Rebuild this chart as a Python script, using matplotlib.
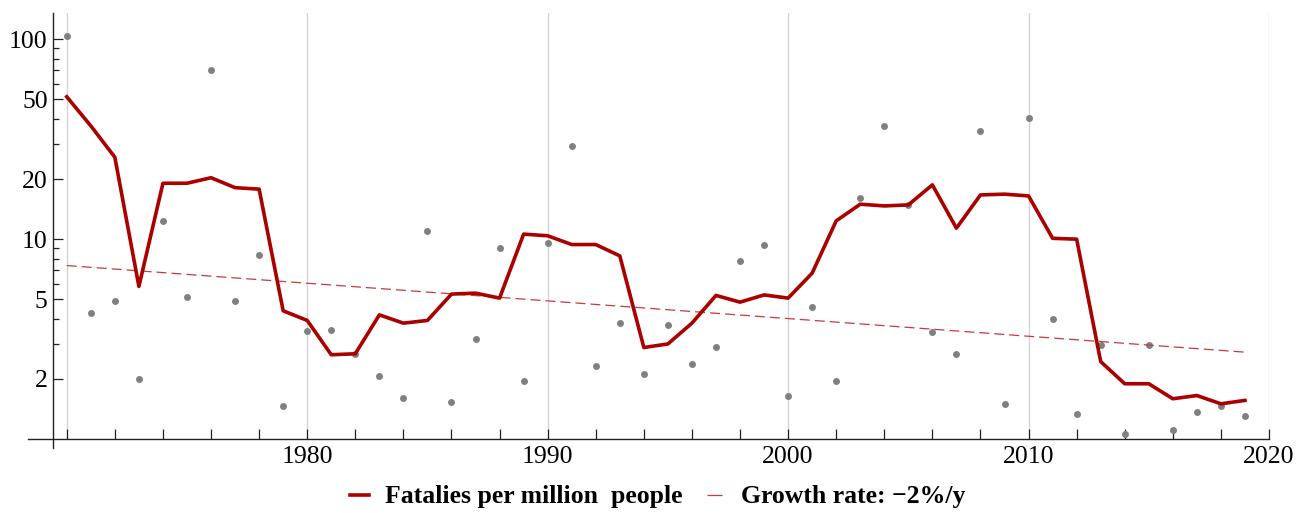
import numpy as np
import matplotlib
matplotlib.use("Agg")
import matplotlib.pyplot as plt
from matplotlib.lines import Line2D
from matplotlib.ticker import FixedLocator, NullFormatter

plt.rcParams['font.family'] = ['Liberation Serif', 'DejaVu Serif']

# --- data (fatalities per million people) ---
years = list(range(1970, 2020))
annual = [103.9, 4.25, 4.93, 2.0, 12.4, 5.11, 70.5, 4.91, 8.35, 1.46,
          3.47, 3.53, 2.66, 2.07, 1.60, 11.04, 1.54, 3.17, 9.08, 1.96,
          9.62, 29.3, 2.31, 3.80, 2.12, 3.73, 2.38, 2.88, 7.79, 9.37,
          1.65, 4.60, 1.96, 16.14, 36.9, 14.8, 3.43, 2.67, 34.8, 1.50,
          40.4, 3.98, 1.33, 2.96, 1.06, 2.96, 1.11, 1.37, 1.47, 1.30]
smoothed = [51.6, 36.9, 25.7, 5.8, 19.05, 19.05, 20.3, 18.1, 17.8, 4.38,
            3.92, 2.64, 2.67, 4.18, 3.80, 3.92, 5.31, 5.37, 5.07, 10.6,
            10.4, 9.4, 9.4, 8.25, 2.87, 2.99, 3.80, 5.23, 4.84, 5.26,
            5.07, 6.76, 12.35, 14.96, 14.67, 14.84, 18.7, 11.35, 16.65, 16.8,
            16.46, 10.1, 10.0, 2.44, 1.89, 1.89, 1.59, 1.65, 1.50, 1.56]
trend_years = [1970, 2019]
trend_vals = [7.38, 2.72]

grid_years = [1970, 1980, 1990, 2000, 2010, 2020]
x_major = [1980, 1990, 2000, 2010, 2020]
x_minor = list(range(1970, 2020, 2))
y_major = [2, 5, 10, 20, 50, 100]
y_minor = [3, 4, 6, 7, 8, 9, 30, 40, 60, 70, 80, 90]

W, H = 1296, 513
fig = plt.figure(figsize=(W/100, H/100), dpi=100)
left, right, top, bottom = 53.3, 1269, 13.3, 439
ax = fig.add_axes([left/W, 1-bottom/H, (right-left)/W, (bottom-top)/H])

red = '#aa0000'
trend_red = '#c83a3a'
for g in grid_years:
    ax.axvline(g, color='#d4d4d4', lw=1.0, zorder=0)

ax.plot(years, annual, 'o', color='#808080', ms=5, mec='none', zorder=2)
ax.plot(trend_years, trend_vals, color=trend_red, lw=0.9, dashes=(8, 4), zorder=3)
ax.plot(years, smoothed, '-', color=red, lw=2.6, zorder=4)

ax.set_yscale('log')
ax.set_xlim(1969.44, 2020)
ax.set_ylim(1.0, 135)

ax.yaxis.set_major_locator(FixedLocator(y_major))
ax.yaxis.set_minor_locator(FixedLocator(y_minor))
ax.set_yticklabels([str(v) for v in y_major])
ax.yaxis.set_minor_formatter(NullFormatter())
ax.xaxis.set_major_locator(FixedLocator(x_major))
ax.xaxis.set_minor_locator(FixedLocator(x_minor))
ax.set_xticklabels([str(v) for v in x_major])

ax.tick_params(axis='both', which='both', direction='in', labelsize=18.5, width=0.9, color='#222222')
ax.tick_params(axis='y', which='major', length=7, pad=4)
ax.tick_params(axis='y', which='minor', length=4.5)
ax.tick_params(axis='x', which='both', length=7, pad=5)

for s in ['top', 'right', 'bottom', 'left']:
    ax.spines[s].set_visible(False)

# axis lines, Mathematica-style (x-axis overshoots left, y-axis overshoots down)
x0 = (28 - left) / (right - left)
ax.plot([x0, 1], [0, 0], transform=ax.transAxes, color='#222222', lw=1.0, clip_on=False, zorder=5)
y0 = -(447.7 - bottom) / (bottom - top)
ax.plot([0, 0], [y0, 1], transform=ax.transAxes, color='#222222', lw=1.0, clip_on=False, zorder=5)

handles = [Line2D([], [], color=red, lw=2.6),
           Line2D([], [], color=trend_red, lw=0.9, linestyle=(0, (12, 30)))]
labels = ['Fatalies per million  people', 'Growth rate: \u22122%/y']
fig.legend(handles, labels, loc='center', bbox_to_anchor=(0.5 + 10/W, 1-497/H), ncol=2,
           frameon=False, handlelength=0.75, columnspacing=0.95, handletextpad=0.6,
           prop={'family': 'Liberation Serif', 'weight': 'bold', 'size': 18.5})

fig.savefig('out.png', dpi=100)
